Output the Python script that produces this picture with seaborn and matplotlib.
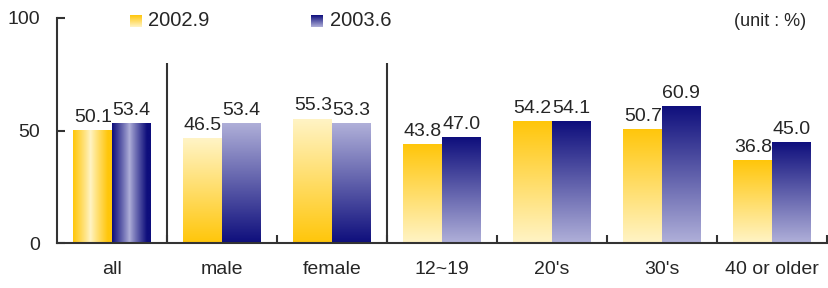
import numpy as np
import pandas as pd
import matplotlib
matplotlib.use("Agg")
import matplotlib.pyplot as plt
import seaborn as sns
from matplotlib.colors import LinearSegmentedColormap

categories = ["all", "male", "female", "12~19", "20's", "30's", "40 or older"]
years = ["2002.9", "2003.6"]
rate_2002 = [50.1, 46.5, 55.3, 43.8, 54.2, 50.7, 36.8]
rate_2003 = [53.4, 53.4, 53.3, 47.0, 54.1, 60.9, 45.0]

df = pd.DataFrame({
    "group": categories * 2,
    "year": [years[0]] * len(categories) + [years[1]] * len(categories),
    "rate": rate_2002 + rate_2003,
})

sns.set_style("white")
plt.rcParams["font.family"] = ["Liberation Sans", "DejaVu Sans"]

# light -> dark colormaps for the two series
cmaps = [
    LinearSegmentedColormap.from_list("yel", ["#FFF4C6", "#FFC60A"]),
    LinearSegmentedColormap.from_list("blu", ["#B0B0D9", "#0E0E7C"]),
]
edge = "#333333"
txt = "#262626"

fig = plt.figure(figsize=(8.29, 2.88), dpi=100)
ax = fig.add_axes([57 / 829, 45 / 288, 770 / 829, 225 / 288])

sns.barplot(data=df, x="group", y="rate", hue="year", order=categories,
            hue_order=years, width=0.7, ax=ax, legend=False, errorbar=None)

t = np.linspace(0, 1, 256)
for k, cont in enumerate(ax.containers):
    for i, bar in enumerate(cont.patches):
        x0, y0 = bar.get_x(), bar.get_y()
        w, h = bar.get_width(), bar.get_height()
        if i == 0:
            # cylinder-like horizontal shading
            v = np.clip(np.abs(t - 0.45) / 0.45, 0, 1) ** 0.9
            img = v[np.newaxis, :]
        elif i in (1, 2):
            # light top, dark bottom
            img = (1 - t)[:, np.newaxis]
        else:
            # dark top, light bottom
            img = t[:, np.newaxis]
        im = ax.imshow(img, cmap=cmaps[k], vmin=0, vmax=1, origin="lower",
                       extent=[x0, x0 + w, y0, y0 + h], aspect="auto",
                       interpolation="bilinear", zorder=2)
        im.set_clip_path(bar)
        bar.set_facecolor("none")
        bar.set_edgecolor("none")

vals = [rate_2002, rate_2003]
for k, cont in enumerate(ax.containers):
    ax.bar_label(cont, labels=[f"{v:.1f}" for v in vals[k]], padding=3,
                 fontsize=14, color=txt)

ax.set_xlim(-0.5, len(categories) - 0.5)
ax.set_ylim(0, 100)
ax.set_yticks([0, 50, 100])
ax.set_xlabel("")
ax.set_ylabel("")

# group separators
ax.vlines([0.5, 2.5], 0, 80, color=edge, lw=1.5, zorder=3)

for s in ["top", "right"]:
    ax.spines[s].set_visible(False)
for s in ["left", "bottom"]:
    ax.spines[s].set_color(edge)
    ax.spines[s].set_linewidth(1.5)

ax.tick_params(axis="y", direction="in", length=6, width=1.5, color=edge,
               pad=12, labelsize=14, labelcolor=txt, left=True)
ax.tick_params(axis="x", which="major", length=0, pad=13, labelsize=14,
               labelcolor=txt)
ax.set_xticks(np.arange(0.5, len(categories), 1), minor=True)
ax.tick_params(axis="x", which="minor", direction="in", length=6, width=1.5,
               color=edge, bottom=True)

# legend with gradient squares
for k, (lx, tx) in enumerate([(130, 148), (311, 330)]):
    lax = fig.add_axes([lx / 829, 1 - 27 / 288, 12 / 829, 12 / 288])
    lax.imshow(t[:, np.newaxis], cmap=cmaps[k], vmin=0, vmax=1,
               origin="lower", aspect="auto", interpolation="bilinear")
    lax.axis("off")
    fig.text(tx / 829, 1 - 21 / 288, years[k], fontsize=14.5,
             va="center", ha="left", color=txt)

fig.text(806 / 829, 1 - 21 / 288, "(unit : %)", fontsize=13,
         va="center", ha="right", color=txt)

fig.savefig("out.png", dpi=100)
